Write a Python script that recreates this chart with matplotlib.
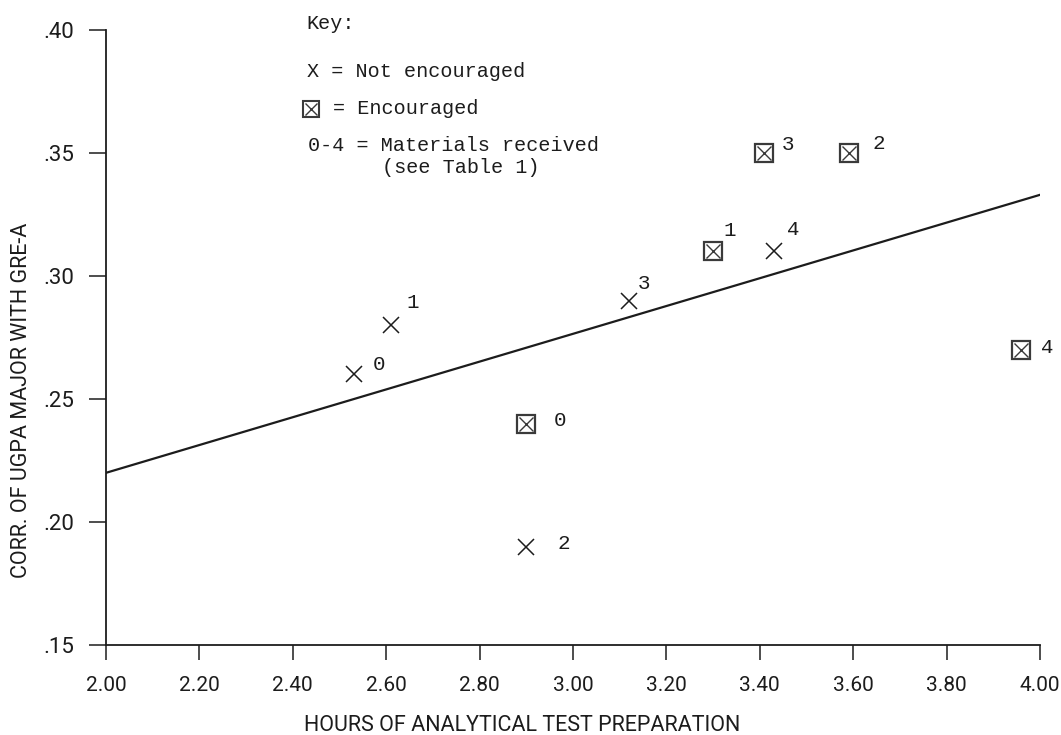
import matplotlib
matplotlib.use("Agg")
import matplotlib.pyplot as plt

# Datos
# Sin estimulo (X)
hrs_not = [2.53, 2.61, 2.90, 3.12, 3.43]
corr_not = [0.26, 0.28, 0.19, 0.29, 0.31]
mat_not = ["0", "1", "2", "3", "4"]

# Con estimulo (caja con X)
hrs_enc = [2.90, 3.30, 3.59, 3.41, 3.96]
corr_enc = [0.24, 0.31, 0.35, 0.35, 0.27]
mat_enc = ["0", "1", "2", "3", "4"]

# Recta de regresion (extremos)
fit_x = [2.00, 4.00]
fit_y = [0.22, 0.333]

x_ticks = [2.00, 2.20, 2.40, 2.60, 2.80, 3.00, 3.20, 3.40, 3.60, 3.80, 4.00]
y_ticks = [0.15, 0.20, 0.25, 0.30, 0.35, 0.40]

# desplazamiento de las etiquetas en puntos (solo estilo)
off_not = [(18, 7), (16, 16), (27, 2), (11, 12), (14, 16)]
off_enc = [(24, 2), (12, 15), (22, 7), (17, 6), (19, 2)]

plotter = ["Roboto", "DejaVu Sans"]
typewriter = ["Liberation Mono", "DejaVu Sans Mono"]
ink = "#1c1c1c"

fig = plt.figure(figsize=(10.61, 7.35), dpi=100)
ax = fig.add_axes([0.0999, 0.1224, 0.8803, 0.8368])

ax.plot(fit_x, fit_y, color=ink, lw=1.6, zorder=2)

ax.plot(hrs_not, corr_not, ls="none", marker="x", ms=11, mew=1.1, color=ink, zorder=3)
ax.plot(hrs_enc, corr_enc, ls="none", marker="s", ms=13, mew=1.6,
        mfc="white", mec="#3a3a3a", zorder=3)
ax.plot(hrs_enc, corr_enc, ls="none", marker="x", ms=10, mew=1.0, color="#3a3a3a", zorder=4)

for x, y, t, o in zip(hrs_not, corr_not, mat_not, off_not):
    ax.annotate(t, (x, y), xytext=o, textcoords="offset points", ha="center", va="center",
                fontsize=15, family=typewriter, color=ink)
for x, y, t, o in zip(hrs_enc, corr_enc, mat_enc, off_enc):
    ax.annotate(t, (x, y), xytext=o, textcoords="offset points", ha="center", va="center",
                fontsize=15, family=typewriter, color=ink)

ax.set_xlim(2.0, 4.0)
ax.set_ylim(0.15, 0.40)
ax.set_xticks(x_ticks)
ax.set_xticklabels([f"{v:.2f}" for v in x_ticks])
ax.set_yticks(y_ticks)
ax.set_yticklabels([f"{v:.2f}"[1:] for v in y_ticks])

for s in ["top", "right"]:
    ax.spines[s].set_visible(False)
for s in ["left", "bottom"]:
    ax.spines[s].set_linewidth(1.3)
    ax.spines[s].set_color(ink)

ax.tick_params(axis="x", length=11, width=1.1, pad=11, colors=ink, labelsize=15)
ax.tick_params(axis="y", length=12, width=1.1, pad=11, colors=ink, labelsize=16)
for lab in ax.get_xticklabels() + ax.get_yticklabels():
    lab.set_family(plotter)

ax.set_xlabel("HOURS OF ANALYTICAL TEST PREPARATION", family=plotter, fontsize=15.5, color=ink)
ax.xaxis.set_label_coords(0.446, -0.113)
ax.set_ylabel("CORR. OF UGPA MAJOR WITH GRE-A", family=plotter, fontsize=15.5, color=ink)
ax.yaxis.set_label_coords(-0.079, 0.398)

# Leyenda escrita a maquina
kw = dict(transform=ax.transAxes, fontsize=14.5, family=typewriter, color=ink,
          va="center", ha="left", clip_on=False)
ax.text(0.215, 1.010, "Key:", **kw)
ax.text(0.215, 0.932, "X = Not encouraged", **kw)
ax.plot([0.2195], [0.872], transform=ax.transAxes, marker="s", ms=11, mew=1.5,
        mfc="white", mec="#3a3a3a", clip_on=False)
ax.plot([0.2195], [0.872], transform=ax.transAxes, marker="x", ms=8, mew=1.0,
        color="#3a3a3a", clip_on=False)
ax.text(0.243, 0.872, "= Encouraged", **kw)
ax.text(0.216, 0.813, "0-4 = Materials received", **kw)
ax.text(0.296, 0.776, "(see Table 1)", **kw)

fig.savefig("out.png", dpi=100)
